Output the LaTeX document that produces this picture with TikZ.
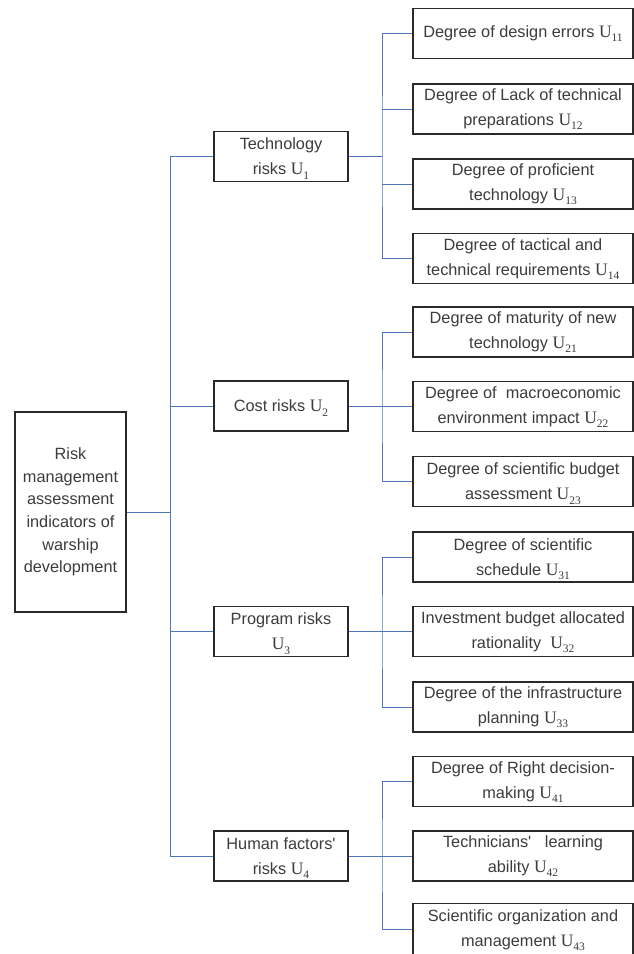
\documentclass[tikz,border=0pt]{standalone}
\usepackage{fontspec}
\setmainfont{Liberation Sans}
\newfontfamily\tmsfont{Liberation Serif}
\newcommand\Usub[1]{{\tmsfont\fontsize{17.5}{17.5}\selectfont U\raisebox{-0.24em}[0pt][0pt]{\fontsize{11.5}{11.5}\selectfont #1}}}
\definecolor{conncol}{HTML}{4F77B5}
\definecolor{txtcol}{HTML}{3C3C3C}
\definecolor{boxcol}{HTML}{2A2A2A}
\tikzset{
  box/.style={draw=boxcol, line width=1.1pt, fill=white, align=center, text=txtcol,
    inner sep=0pt, font=\fontsize{16.3}{25}\selectfont},
  rootbox/.style={box, minimum width=111pt, minimum height=200pt, font=\fontsize{16.3}{22.7}\selectfont},
  midbox/.style={box, minimum width=134pt, minimum height=50pt},
  leafbox/.style={box, minimum width=220pt, minimum height=50pt},
  conn/.style={draw=conncol, line width=0.9pt}
}
\begin{document}
\begin{tikzpicture}[x=1pt,y=-1pt]
\useasboundingbox (0,0) rectangle (634,954);
% root
\node[rootbox] (root) at (70.5,512) {Risk\\management\\assessment\\indicators of\\warship\\development};
% level 2
\node[midbox] (t1) at (281,156.5) {Technology\\risks \Usub{1}};
\node[midbox] (t2) at (281,406) {Cost risks \Usub{2}};
\node[midbox] (t3) at (281,631.5) {Program risks\\\Usub{3}};
\node[midbox] (t4) at (281,856) {Human factors\textquotesingle\\risks \Usub{4}};
% leaves
\node[leafbox] (l11) at (523,33.5) {Degree of design errors \Usub{11}};
\node[leafbox] (l12) at (523,109) {Degree of Lack of technical\\preparations \Usub{12}};
\node[leafbox] (l13) at (523,184) {Degree of proficient\\technology \Usub{13}};
\node[leafbox] (l14) at (523,258.5) {Degree of tactical and\\technical requirements \Usub{14}};
\node[leafbox] (l21) at (523,332) {Degree of maturity of new\\technology \Usub{21}};
\node[leafbox] (l22) at (523,406.5) {Degree of\ \ macroeconomic\\environment impact \Usub{22}};
\node[leafbox] (l23) at (523,481.5) {Degree of scientific budget\\assessment \Usub{23}};
\node[leafbox] (l31) at (523,557) {Degree of scientific\\schedule \Usub{31}};
\node[leafbox] (l32) at (523,631.5) {Investment budget allocated\\rationality\ \ \Usub{32}};
\node[leafbox] (l33) at (523,707) {Degree of the infrastructure\\planning \Usub{33}};
\node[leafbox] (l41) at (523,781.5) {Degree of Right decision-\\making \Usub{41}};
\node[leafbox] (l42) at (523,856) {Technicians\textquotesingle\ \ \ learning\\ability \Usub{42}};
\node[leafbox, minimum height=52pt] (l43) at (523,929.5) {Scientific organization and\\management \Usub{43}};
% junction coordinates
\coordinate (tr) at (170,512);
\coordinate (b1) at (382,156.5);
\coordinate (b2) at (382,406);
\coordinate (b3) at (382,631.5);
\coordinate (b4) at (382,856);
% trunk
\draw[conn] (root.east) -- (tr);
\draw[conn] (t1.west) -| (tr);
\draw[conn] (t4.west) -| (tr);
\draw[conn] (t2.west) -- (t2.west -| tr);
\draw[conn] (t3.west) -- (t3.west -| tr);
% group 1
\draw[conn] (t1.east) -- (b1);
\draw[conn] (l11.west) -| (b1) |- (l14.west);
\draw[conn] (l12.west) -- (l12.west -| b1);
\draw[conn] (l13.west) -- (l13.west -| b1);
% group 2
\draw[conn] (t2.east) -- (b2);
\draw[conn] (l21.west) -| (b2) |- (l23.west);
\draw[conn] (l22.west) -- (l22.west -| b2);
% group 3
\draw[conn] (t3.east) -- (b3);
\draw[conn] (l31.west) -| (b3) |- (l33.west);
\draw[conn] (l32.west) -- (l32.west -| b3);
% group 4
\draw[conn] (t4.east) -- (b4);
\draw[conn] (l41.west) -| (b4) |- (l43.west);
\draw[conn] (l42.west) -- (l42.west -| b4);
\end{tikzpicture}
\end{document}
